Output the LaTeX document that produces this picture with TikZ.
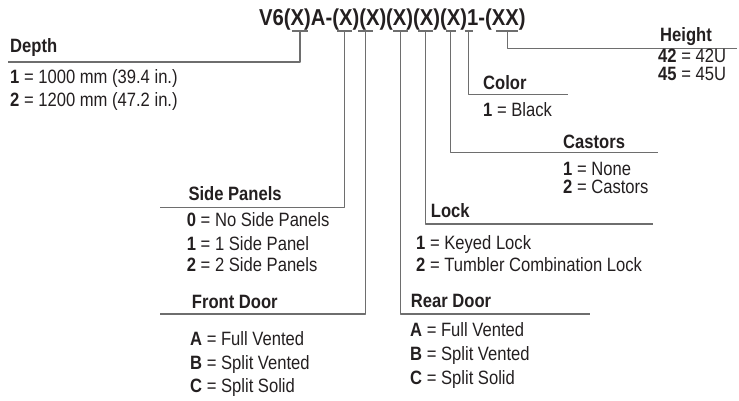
\documentclass[tikz,border=0pt]{standalone}
\usepackage{fontspec}
\setmainfont{Liberation Sans}[FakeStretch=0.86]
\newfontfamily\codefont{Liberation Sans}[FakeStretch=0.88]
\definecolor{leadgray}{HTML}{6E6E6E}
\definecolor{txt}{HTML}{231F20}
\begin{document}
\begin{tikzpicture}[x=1pt, y=-1pt, line join=round,
	lead/.style={draw=leadgray, line width=1.1pt},
	hd/.style={anchor=base west, inner sep=0pt, text=txt, font=\fontsize{19.3}{22}\selectfont\bfseries},
	opt/.style={anchor=base west, inner sep=0pt, text=txt, font=\fontsize{19.3}{22}\selectfont}]
	\useasboundingbox (0,0) rectangle (739,400);
	% model code
	\node[anchor=base west, inner sep=0pt, text=txt, font=\codefont\fontsize{23}{26}\selectfont\bfseries] (code) at (259,25) {V6(X)A-(X)(X)(X)(X)(X)1-(XX)};
	% tick points under the code
	\coordinate (tDepth) at (300,31);
	\coordinate (tSide) at (344.5,31);
	\coordinate (tFront) at (365.7,31);
	\coordinate (tRear) at (400.7,31);
	\coordinate (tLock) at (425.5,31);
	\coordinate (tCast) at (450.7,31);
	\coordinate (tColor) at (468.5,31);
	\coordinate (tHeight) at (507.3,31);
	\draw[lead] ([xshift=-8]tDepth) -- ([xshift=8]tDepth);
	\draw[lead] ([xshift=-7.5]tSide) -- ([xshift=7.5]tSide);
	\draw[lead] ([xshift=-7.5]tFront) -- ([xshift=7.5]tFront);
	\draw[lead] ([xshift=-7.5]tRear) -- ([xshift=7.5]tRear);
	\draw[lead] ([xshift=-7.5]tLock) -- ([xshift=7.5]tLock);
	\draw[lead] ([xshift=-5]tCast) -- ([xshift=5]tCast);
	\draw[lead] ([xshift=-4]tColor) -- ([xshift=4]tColor);
	\draw[lead] ([xshift=-11]tHeight) -- ([xshift=11]tHeight);
	% line ends
	\coordinate (eDepth) at (8,62);
	\coordinate (eSide) at (160,207.3);
	\coordinate (eFront) at (160,314);
	\coordinate (eRear) at (590,314);
	\coordinate (eLock) at (653,224);
	\coordinate (eCast) at (658,152.7);
	\coordinate (eColor) at (568,94.3);
	\coordinate (eHeight) at (737,48.3);
	\draw[lead] (tDepth) |- (eDepth);
	\draw[lead] (tSide) |- (eSide);
	\draw[lead] (tFront) |- (eFront);
	\draw[lead] (tRear) |- (eRear);
	\draw[lead] (tLock) |- (eLock);
	\draw[lead] (tCast) |- (eCast);
	\draw[lead] (tColor) |- (eColor);
	\draw[lead] (tHeight) |- (eHeight);
	% Depth
	\node[hd] (depth) at (10,52) {Depth};
	\node[opt] (depth1) at (10,83.3) {\textbf{1} = 1000 mm (39.4 in.)};
	\node[opt] (depth2) at (10,106) {\textbf{2} = 1200 mm (47.2 in.)};
	% Height
	\node[hd] (height) at (660,41) {Height};
	\node[opt] (height1) at (658,62.5) {\textbf{42} = 42U};
	\node[opt] (height2) at (658,80) {\textbf{45} = 45U};
	% Color
	\node[hd] (color) at (483,89) {Color};
	\node[opt] (color1) at (483,116.7) {\textbf{1} = Black};
	% Castors
	\node[hd] (cast) at (563,148) {Castors};
	\node[opt] (cast1) at (563,175.5) {\textbf{1} = None};
	\node[opt] (cast2) at (563,193.5) {\textbf{2} = Castors};
	% Lock
	\node[hd] (lock) at (430.7,217) {Lock};
	\node[opt] (lock1) at (416,249) {\textbf{1} = Keyed Lock};
	\node[opt] (lock2) at (416,271.7) {\textbf{2} = Tumbler Combination Lock};
	% Rear Door
	\node[hd] (rear) at (410.7,307) {Rear Door};
	\node[opt] (rearA) at (410,336.7) {\textbf{A} = Full Vented};
	\node[opt] (rearB) at (410,360.7) {\textbf{B} = Split Vented};
	\node[opt] (rearC) at (410,384) {\textbf{C} = Split Solid};
	% Front Door
	\node[hd] (front) at (191.7,308) {Front Door};
	\node[opt] (frontA) at (190,345.7) {\textbf{A} = Full Vented};
	\node[opt] (frontB) at (190,369) {\textbf{B} = Split Vented};
	\node[opt] (frontC) at (190,392.7) {\textbf{C} = Split Solid};
	% Side Panels
	\node[hd] (side) at (188.3,200.7) {Side Panels};
	\node[opt] (side0) at (186.7,226.7) {\textbf{0} = No Side Panels};
	\node[opt] (side1) at (186.7,250) {\textbf{1} = 1 Side Panel};
	\node[opt] (side2) at (186.7,271.7) {\textbf{2} = 2 Side Panels};
\end{tikzpicture}
\end{document}
